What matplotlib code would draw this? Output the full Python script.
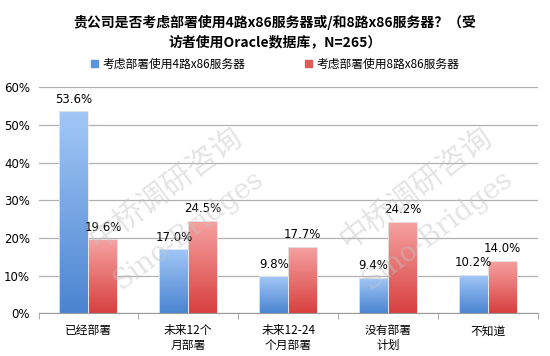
import matplotlib.pyplot as plt
import numpy as np
from matplotlib.colors import LinearSegmentedColormap

plt.rcParams['font.family'] = ['Noto Sans CJK SC', 'DejaVu Sans']

categories = ['已经部署', '未来12个\n月部署', '未来12-24\n个月部署', '没有部署\n计划', '不知道']
series_names = ['考虑部署使用4路x86服务器', '考虑部署使用8路x86服务器']
values_4 = [53.6, 17.0, 9.8, 9.4, 10.2]
values_8 = [19.6, 24.5, 17.7, 24.2, 14.0]
yticks = [0, 10, 20, 30, 40, 50, 60]

fig = plt.figure(figsize=(5.5, 3.56), dpi=100)
ax = fig.add_axes([0.07, 0.12, 0.908, 0.635])

blue_cmap = LinearSegmentedColormap.from_list('b', ['#4a84d0', '#a3c8f7'])
red_cmap = LinearSegmentedColormap.from_list('r', ['#d7403f', '#f6a3a2'])

x = np.arange(len(categories))
w = 0.29


def gradient_bars(xs, vals, cmap, label):
    bars = ax.bar(xs, vals, w, color='none', edgecolor='#e8e8e8', linewidth=0.6,
                  label=label, zorder=3)
    grad = np.linspace(0, 1, 256).reshape(-1, 1)
    for b in bars:
        x0, y0 = b.get_x(), b.get_y()
        im = ax.imshow(grad, cmap=cmap, aspect='auto', origin='lower',
                       extent=[x0, x0 + b.get_width(), y0, y0 + b.get_height()],
                       zorder=2)
        im.set_clip_path(b)
    return bars


gradient_bars(x - w / 2, values_4, blue_cmap, series_names[0])
gradient_bars(x + w / 2, values_8, red_cmap, series_names[1])
ax.set_xlim(-0.5, len(categories) - 0.5)
ax.set_ylim(0, 60)

for xs, vals in [(x - w / 2, values_4), (x + w / 2, values_8)]:
    for xi, v in zip(xs, vals):
        ax.text(xi, v + 1.5, f'{v:.1f}%', ha='center', va='bottom', fontsize=8.5,
                family=['DejaVu Sans'], zorder=5)

ax.set_yticks(yticks)
ax.set_yticklabels([f'{t}%' for t in yticks], fontsize=8.5, family=['DejaVu Sans'])
ax.set_xticks(x)
ax.set_xticklabels(categories, fontsize=8.5)
ax.set_xticks(np.arange(len(categories) + 1) - 0.5, minor=True)
ax.tick_params(axis='x', which='major', length=0, pad=8)
ax.tick_params(axis='x', which='minor', length=4, color='#999999')
ax.tick_params(axis='y', length=0, pad=6)
ax.yaxis.grid(True, color='#b0b0b0', linewidth=0.9, zorder=0)
ax.set_axisbelow(True)
for s in ['top', 'right', 'left']:
    ax.spines[s].set_visible(False)
ax.spines['bottom'].set_color('#999999')

# watermark
for xc, xs_ in [(0.255, 0.30), (0.756, 0.80)]:
    ax.text(xc, 0.553, '中桥调研咨询', transform=ax.transAxes, fontsize=22,
            color='#c4c4c4', alpha=0.45, rotation=37, ha='center', va='center', zorder=6)
    ax.text(xs_, 0.367, 'Sino-Bridges', transform=ax.transAxes, fontsize=20,
            color='#c4c4c4', alpha=0.45, rotation=37, ha='center', va='center',
            family=['DejaVu Serif'], zorder=6)

fig.text(0.5, 0.958, '贵公司是否考虑部署使用4路x86服务器或/和8路x86服务器？（受\n访者使用Oracle数据库，N=265）',
         ha='center', va='top', fontsize=10, fontweight='bold', linespacing=1.5)

handles = [plt.Rectangle((0, 0), 1, 1, color='#5b93d8'), plt.Rectangle((0, 0), 1, 1, color='#e05a5a')]
fig.legend(handles, series_names, loc='center', bbox_to_anchor=(0.5, 0.82), ncol=2,
           frameon=False, fontsize=8.5, handlelength=0.6, handleheight=0.6,
           columnspacing=5, handletextpad=0.4)

fig.savefig('out.png', dpi=100)
